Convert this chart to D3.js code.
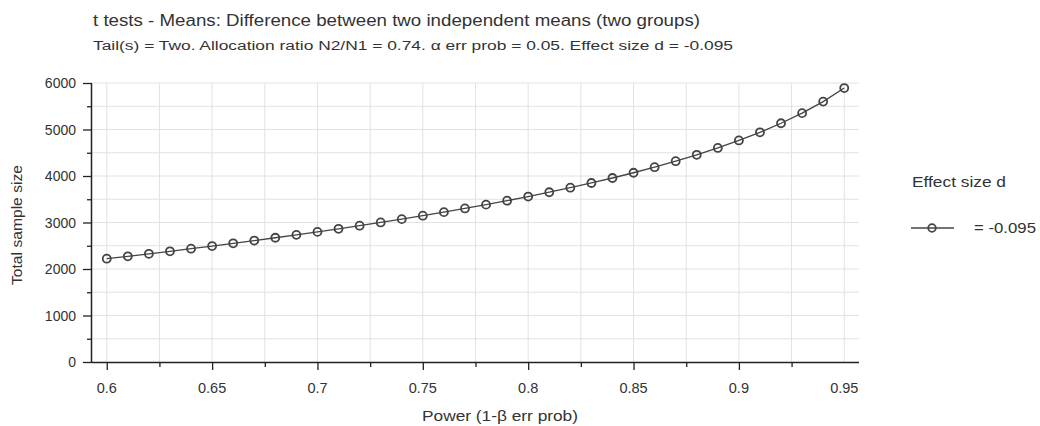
<!DOCTYPE html>
<html>
<head>
<meta charset="utf-8">
<script src="https://cdn.jsdelivr.net/npm/d3@7"></script>
<style>
  html, body { margin: 0; padding: 0; background: #fff; }
  text { font-family: "Liberation Sans", Arial, Helvetica, sans-serif; fill: #333; }
</style>
</head>
<body>
<svg id="chart" width="1040" height="426"></svg>
<script>
// ---- data ----
const power = [0.60,0.61,0.62,0.63,0.64,0.65,0.66,0.67,0.68,0.69,0.70,0.71,0.72,0.73,0.74,0.75,0.76,0.77,0.78,0.79,
               0.80,0.81,0.82,0.83,0.84,0.85,0.86,0.87,0.88,0.89,0.90,0.91,0.92,0.93,0.94,0.95];
const totalN = [2221,2273,2327,2381,2437,2494,2552,2611,2672,2734,2798,2864,2931,3001,3072,3146,3223,3302,3384,3469,
                3558,3651,3748,3850,3957,4070,4190,4318,4456,4603,4764,4939,5134,5352,5600,5891];
const xTickLabels = [0.6,0.65,0.7,0.75,0.8,0.85,0.9,0.95];
const xMinorTicks = [0.6,0.625,0.65,0.675,0.7,0.725,0.75,0.775,0.8,0.825,0.85,0.875,0.9,0.925];
const xGrid = [0.6,0.625,0.65,0.675,0.7,0.725,0.75,0.775,0.8,0.825,0.85,0.875,0.9,0.925,0.95];
const yTickLabels = [0,1000,2000,3000,4000,5000,6000];
const yGrid = [500,1000,1500,2000,2500,3000,3500,4000,4500,5000,5500,6000];
const title = "t tests - Means: Difference between two independent means (two groups)";
const subtitle = "Tail(s) = Two. Allocation ratio N2/N1 = 0.74. \u03b1 err prob = 0.05. Effect size d = -0.095";
const xTitle = "Power (1-\u03b2 err prob)";
const yTitle = "Total sample size";
const legendTitle = "Effect size d";
const legendLabel = "= -0.095";

const svg = d3.select("#chart");
const L = 92, R = 859, T = 83, B = 362;
const x = d3.scaleLinear().domain([0.593, 0.957]).range([L, R]);
const y = d3.scaleLinear().domain([0, 6000]).range([B, T]);

function fit(sel, w) {
  return sel.attr("textLength", w).attr("lengthAdjust", "spacingAndGlyphs");
}

// grid
const g = svg.append("g");
g.selectAll(".vg").data(xGrid).join("line")
  .attr("x1", d => x(d)).attr("x2", d => x(d)).attr("y1", T).attr("y2", B)
  .attr("stroke", "#e2e2e2").attr("stroke-width", 1);
g.selectAll(".hg").data(yGrid).join("line")
  .attr("x1", L).attr("x2", R).attr("y1", d => y(d)).attr("y2", d => y(d))
  .attr("stroke", "#e2e2e2").attr("stroke-width", 1);

// axes
const xAxis = d3.axisBottom(x).tickValues(xMinorTicks).tickSize(5).tickFormat("").tickSizeOuter(0);
const xa = svg.append("g").attr("transform", `translate(0,${B})`).call(xAxis);
xa.select(".domain").attr("d", `M${L},0.5H${R}`).attr("stroke", "#222").attr("stroke-width", 1.5);
xa.selectAll(".tick line").attr("stroke", "#222").attr("stroke-width", 1.3)
  .attr("y2", d => xTickLabels.some(v => Math.abs(v - d) < 1e-9) ? 8 : 5);
svg.append("g").selectAll("text").data(xTickLabels).join("text")
  .attr("x", d => x(d)).attr("y", 393).attr("text-anchor", "middle")
  .attr("font-size", 14.5).text(d => String(d));

const yAxis = d3.axisLeft(y).tickValues(yGrid.concat([0])).tickSize(5).tickFormat("").tickSizeOuter(0);
const ya = svg.append("g").attr("transform", `translate(${L},0)`).call(yAxis);
ya.select(".domain").attr("d", `M-0.5,${T}V${B}`).attr("stroke", "#222").attr("stroke-width", 1.5);
ya.selectAll(".tick line").attr("stroke", "#222").attr("stroke-width", 1.3)
  .attr("x2", d => yTickLabels.includes(d) ? -9 : -5);
svg.append("g").selectAll("text").data(yTickLabels).join("text")
  .attr("x", 76).attr("y", d => y(d) + 5).attr("text-anchor", "end")
  .attr("font-size", 14).text(d => String(d));

// axis titles
fit(svg.append("text").attr("x", 422).attr("y", 421)
  .attr("font-size", 14).text(xTitle), 156);
fit(svg.append("text").attr("transform", `translate(22,285) rotate(-90)`)
  .attr("font-size", 14).text(yTitle), 120);

// titles
fit(svg.append("text").attr("x", 93).attr("y", 26).attr("font-size", 16).text(title), 607);
fit(svg.append("text").attr("x", 93).attr("y", 50).attr("font-size", 12.5).text(subtitle), 640);

// series
const pts = power.map((p, i) => [p, totalN[i]]);
svg.append("path").datum(pts)
  .attr("d", d3.line().x(d => x(d[0])).y(d => y(d[1])))
  .attr("fill", "none").attr("stroke", "#444").attr("stroke-width", 1.3);
svg.append("g").selectAll("circle").data(pts).join("circle")
  .attr("cx", d => x(d[0])).attr("cy", d => y(d[1])).attr("r", 4)
  .attr("fill", "none").attr("stroke", "#444").attr("stroke-width", 1.8);

// legend
fit(svg.append("text").attr("x", 912).attr("y", 187).attr("font-size", 14).text(legendTitle), 94);
svg.append("line").attr("x1", 911).attr("x2", 954).attr("y1", 228).attr("y2", 228)
  .attr("stroke", "#444").attr("stroke-width", 1.3);
svg.append("circle").attr("cx", 932).attr("cy", 228).attr("r", 3.8)
  .attr("fill", "none").attr("stroke", "#444").attr("stroke-width", 1.8);
fit(svg.append("text").attr("x", 974).attr("y", 233).attr("font-size", 14).text(legendLabel), 62);
</script>
</body>
</html>
